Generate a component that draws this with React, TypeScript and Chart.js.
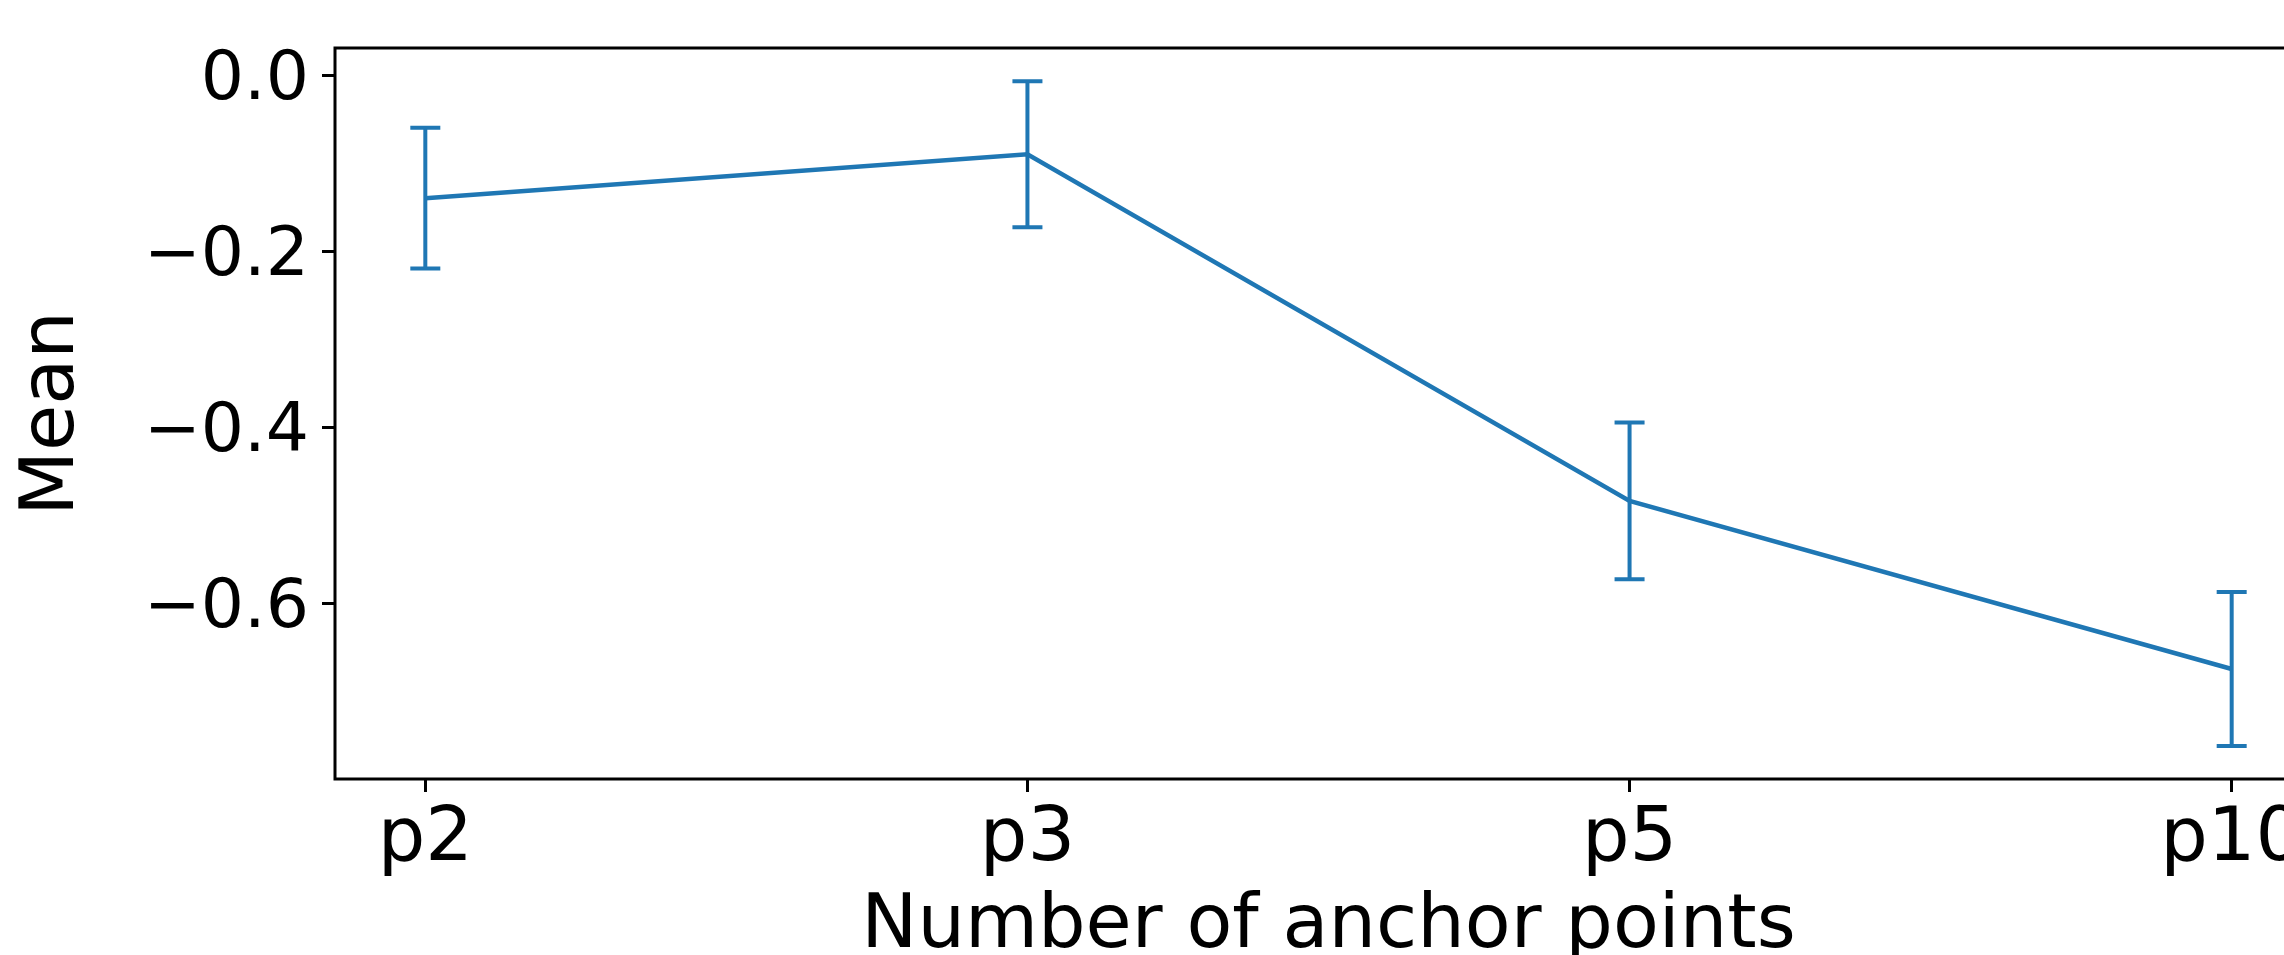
import React, { useEffect, useRef } from 'react';
import { Chart, registerables } from 'chart.js';

Chart.register(...registerables);

// ---- data ----
const categories: string[] = ['p2', 'p3', 'p5', 'p10'];
const means: number[] = [-0.14, -0.09, -0.484, -0.675];
const errors: number[] = [0.08, 0.083, 0.089, 0.0875];
const yTickValues: number[] = [0, -0.2, -0.4, -0.6];
const xTitle = 'Number of anchor points';
const yTitle = 'Mean';

// ---- style ----
const COLOR = '#1f77b4';
const FONT_FAMILY = '"DejaVu Sans", sans-serif';
const TICK_Y_SIZE = 68;
const TICK_X_SIZE = 75;
const TITLE_SIZE = 75;
const CANVAS_W = 2450;
const CANVAS_H = 955;
const AREA_LEFT = 335;
const AREA_TOP = 48;
const AREA_RIGHT = 2322;
const AREA_BOTTOM = 779;

const errorBarPlugin = {
  id: 'errorBars',
  afterDatasetsDraw(chart: any) {
    const { ctx, scales } = chart;
    const x = scales.x;
    const y = scales.y;
    ctx.save();
    ctx.strokeStyle = COLOR;
    ctx.lineWidth = 4;
    ctx.lineCap = 'butt';
    means.forEach((m, i) => {
      const px = x.getPixelForValue(i);
      const top = y.getPixelForValue(m + errors[i]);
      const bot = y.getPixelForValue(m - errors[i]);
      ctx.beginPath();
      ctx.moveTo(px, top);
      ctx.lineTo(px, bot);
      ctx.moveTo(px - 15, top);
      ctx.lineTo(px + 15, top);
      ctx.moveTo(px - 15, bot);
      ctx.lineTo(px + 15, bot);
      ctx.stroke();
    });
    ctx.restore();
  },
};

const framePlugin = {
  id: 'frame',
  afterDraw(chart: any) {
    const { ctx, chartArea } = chart;
    ctx.save();
    ctx.strokeStyle = '#000';
    ctx.lineWidth = 3;
    ctx.strokeRect(
      chartArea.left,
      chartArea.top,
      chartArea.right - chartArea.left,
      chartArea.bottom - chartArea.top
    );
    ctx.restore();
  },
};

const fmt = (v: number) => {
  const s = Math.abs(v).toFixed(1);
  return v < -1e-9 ? '\u2212' + s : s;
};

export default function App() {
  const canvasRef = useRef<HTMLCanvasElement | null>(null);

  useEffect(() => {
    if (!canvasRef.current) return;
    const chart = new Chart(canvasRef.current, {
      type: 'line',
      data: {
        datasets: [
          {
            data: means.map((m, i) => ({ x: i, y: m })),
            borderColor: COLOR,
            backgroundColor: COLOR,
            borderWidth: 4.5,
            pointRadius: 0,
            tension: 0,
            fill: false,
          },
        ],
      },
      options: {
        responsive: false,
        animation: false,
        devicePixelRatio: 1,
        layout: {
          padding: { top: AREA_TOP, left: 0, right: CANVAS_W - AREA_RIGHT, bottom: 0 },
        },
        plugins: {
          legend: { display: false },
          tooltip: { enabled: false },
        },
        scales: {
          x: {
            type: 'linear',
            min: -0.15,
            max: categories.length - 1 + 0.15,
            afterBuildTicks: (s: any) => {
              s.ticks = categories.map((_, i) => ({ value: i }));
            },
            afterFit: (s: any) => {
              s.height = CANVAS_H - AREA_BOTTOM;
              s.paddingLeft = 0;
              s.paddingRight = 0;
            },
            ticks: {
              callback: (v: any) => categories[Math.round(Number(v))] ?? '',
              font: { family: FONT_FAMILY, size: TICK_X_SIZE },
              color: '#000',
              padding: 4,
              maxRotation: 0,
              autoSkip: false,
            },
            grid: {
              display: true,
              drawOnChartArea: false,
              drawTicks: true,
              tickLength: 13,
              tickWidth: 3,
              color: '#000',
            },
            border: { display: false },
            title: {
              display: true,
              text: xTitle,
              font: { family: FONT_FAMILY, size: TITLE_SIZE },
              color: '#000',
              padding: { top: 0, bottom: -18 },
            },
          },
          y: {
            type: 'linear',
            min: -0.8,
            max: 0.0307,
            afterBuildTicks: (s: any) => {
              s.ticks = yTickValues.map((v) => ({ value: v }));
            },
            afterFit: (s: any) => {
              s.width = AREA_LEFT;
              s.paddingTop = 0;
              s.paddingBottom = 0;
            },
            ticks: {
              callback: (v: any) => fmt(Number(v)),
              font: { family: FONT_FAMILY, size: TICK_Y_SIZE },
              color: '#000',
              padding: 13,
              labelOffset: 6,
            },
            grid: {
              display: true,
              drawOnChartArea: false,
              drawTicks: true,
              tickLength: 13,
              tickWidth: 3,
              color: '#000',
            },
            border: { display: false },
            title: {
              display: true,
              text: yTitle,
              font: { family: FONT_FAMILY, size: TITLE_SIZE },
              color: '#000',
              padding: { top: 9, bottom: 0 },
            },
          },
        },
      },
      plugins: [errorBarPlugin, framePlugin],
    } as any);
    return () => chart.destroy();
  }, []);

  return (
    <div
      style={{
        position: 'fixed',
        left: 0,
        top: 0,
        width: '100vw',
        height: '100vh',
        overflow: 'hidden',
        background: '#fff',
      }}
    >
      <canvas
        ref={canvasRef}
        width={CANVAS_W}
        height={CANVAS_H}
        style={{ display: 'block', width: CANVAS_W + 'px', height: CANVAS_H + 'px' }}
      />
    </div>
  );
}
